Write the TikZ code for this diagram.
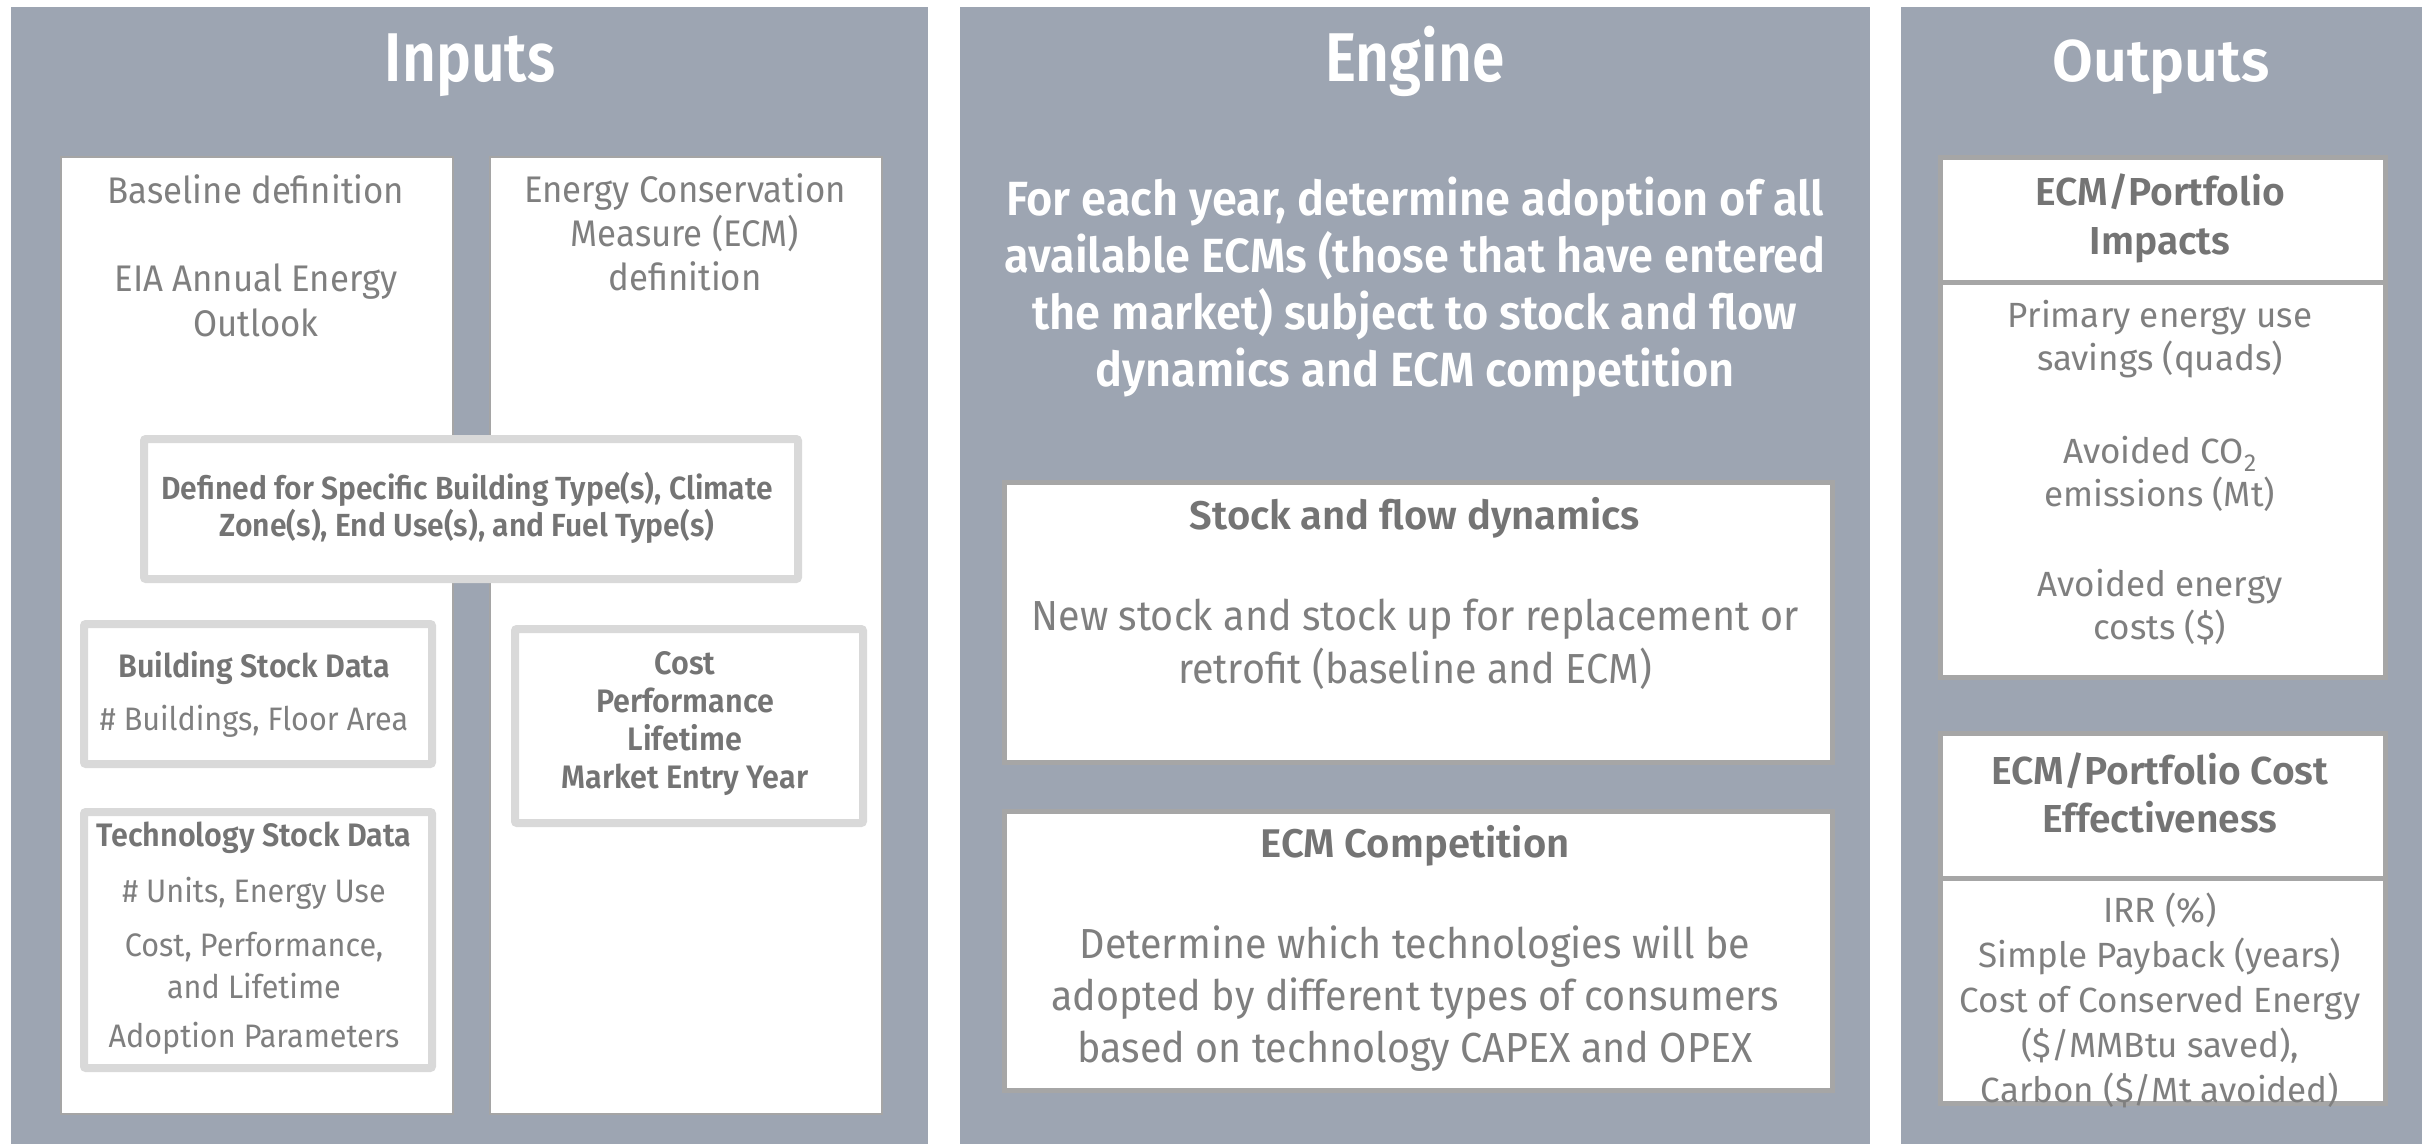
\documentclass[tikz,border=0pt]{standalone}
\usepackage{fontspec}
\setmainfont{Fira Sans}[BoldFont={Fira Sans SemiBold}]
\newfontfamily\condfont{Fira Sans}[FakeStretch=0.94,BoldFont={Fira Sans SemiBold}]
\newfontfamily\titlefont{Fira Sans}[FakeStretch=0.85,BoldFont={Fira Sans SemiBold}]
\newcommand\fsz[2]{\fontsize{#1}{#2}\selectfont}
\definecolor{panelc}{RGB}{157,165,178}
\definecolor{colb}{RGB}{165,165,165}
\definecolor{lightb}{RGB}{217,217,217}
\definecolor{darkb}{RGB}{166,166,166}
\definecolor{textc}{RGB}{127,127,127}
\definecolor{headc}{RGB}{116,116,116}
\tikzset{
  panel/.style={fill=panelc,draw=none,inner sep=0pt,anchor=north west},
  colbox/.style={fill=white,draw=colb,line width=2pt,inner sep=0pt,anchor=north west},
  ibox/.style={fill=white,draw=lightb,line width=8pt,rounded corners=2pt,inner sep=0pt,anchor=north west},
  obox/.style={fill=white,draw=darkb,line width=5pt,inner sep=0pt,anchor=north west},
  txt/.style={text=textc,align=center,inner sep=0pt},
  hd/.style={text=headc,align=center,inner sep=0pt},
  ttl/.style={text=white,align=center,inner sep=0pt,anchor=base},
  ctxt/.style={txt,font={\condfont\fsz{37}{45}}},
  csm/.style={txt,font={\condfont\fsz{32.5}{42}}},
  csmb/.style={hd,font={\condfont\bfseries\fsz{32.5}{38}}},
  etxt/.style={txt,font={\condfont\fsz{42}{53}}},
  ehd/.style={hd,font={\bfseries\fsz{40}{46}}},
  otxt/.style={txt,font={\fsz{35}{43}}},
  ohd/.style={hd,font={\bfseries\fsz{39}{49}}},
}
\begin{document}
\begin{tikzpicture}[x=1pt,y=-1pt]
\useasboundingbox (0,0) rectangle (2430,1144);
\fill[white] (0,0) rectangle (2430,1144);
% panels
\node[panel,minimum width=917pt,minimum height=1137pt] (pin) at (11,7) {};
\node[panel,minimum width=910pt,minimum height=1137pt] (pen) at (960,7) {};
\node[panel,minimum width=521pt,minimum height=1137pt] (pout) at (1901,7) {};
% titles
\node[ttl,font={\titlefont\bfseries\fsz{69}{70}}] (tin) at (470,81) {Inputs};
\node[ttl,font={\titlefont\bfseries\fsz{69}{70}}] (ten) at (1415,81) {Engine};
\node[ttl,font={\bfseries\fsz{59}{70}}] (tout) at (2161,81) {Outputs};
% inputs columns
\node[colbox,minimum width=392pt,minimum height=957pt] (lcol) at (60,156) {};
\node[colbox,minimum width=392pt,minimum height=957pt] (rcol) at (489,156) {};
\node[ctxt] (blA) at (256,189) {Baseline definition};
\node[ctxt] (blB) at (256,300) {EIA Annual Energy\\Outlook};
\node[ctxt,font={\condfont\fsz{37}{44}}] (ecA) at (685,232) {Energy Conservation\\Measure (ECM)\\definition};
% inputs inner boxes
\node[ibox,minimum width=654pt,minimum height=140pt] (dfbox) at (140,435) {};
\node[csmb,font={\condfont\bfseries\fsz{32}{37}}] (dfT) at (467,508) {Defined for Specific Building Type(s), Climate\\Zone(s), End Use(s), and Fuel Type(s)};
\node[ibox,minimum width=348pt,minimum height=140pt] (bsbox) at (80,620) {};
\node[csmb] (bsT) at (254,668) {Building Stock Data};
\node[csm] (bsB) at (254,721) {\# Buildings, Floor Area};
\node[ibox,minimum width=348pt,minimum height=256pt] (tsbox) at (80,808) {};
\node[csmb] (tsT) at (254,838) {Technology Stock Data};
\node[csm] (tsA) at (254,893) {\# Units, Energy Use};
\node[csm] (tsB) at (254,965) {Cost, Performance,\\and Lifetime};
\node[csm] (tsC) at (254,1038) {Adoption Parameters};
\node[ibox,minimum width=348pt,minimum height=194pt] (cpbox) at (511,625) {};
\node[csmb] (cpT) at (685,724) {Cost\\Performance\\Lifetime\\Market Entry Year};
% engine
\node[txt,text=white,font={\condfont\bfseries\fsz{48}{57}}] (epar) at (1415,287) {For each year, determine adoption of all\\available ECMs (those that have entered\\the market) subject to stock and flow\\dynamics and ECM competition};
\node[obox,minimum width=828pt,minimum height=280pt] (sfbox) at (1001.5,479.5) {};
\node[ehd] (sfT) at (1415,518) {Stock and flow dynamics};
\node[etxt] (sfB) at (1415,644) {New stock and stock up for replacement or\\retrofit (baseline and ECM)};
\node[obox,minimum width=828pt,minimum height=279pt] (ecbox) at (1001.5,808.5) {};
\node[ehd] (ecT) at (1415,846) {ECM Competition};
\node[etxt,font={\condfont\fsz{42}{52}}] (ecB) at (1415,999) {Determine which technologies will be\\adopted by different types of consumers\\based on technology CAPEX and OPEX};
% outputs
\node[obox,minimum width=445pt,minimum height=125.5pt] (o1hbox) at (1937.5,154.5) {};
\node[obox,minimum width=445pt,minimum height=394.5pt] (o1bbox) at (1937.5,280) {};
\node[ohd] (o1h) at (2160,218) {ECM/Portfolio\\Impacts};
\node[otxt] (o1a) at (2160,339) {Primary energy use\\savings (quads)};
\node[otxt] (o1b) at (2160,474) {Avoided CO\textsubscript{2}\\emissions (Mt)};
\node[otxt] (o1c) at (2160,607) {Avoided energy\\costs (\$)};
\node[obox,minimum width=445pt,minimum height=145pt] (o2hbox) at (1937.5,730.5) {};
\node[obox,minimum width=445pt,minimum height=225pt] (o2bbox) at (1937.5,875.5) {};
\node[ohd,font={\bfseries\fsz{39}{48}}] (o2h) at (2160,793) {ECM/Portfolio Cost\\Effectiveness};
\node[otxt,font={\fsz{35}{45}}] (o2b) at (2160,1000) {IRR (\%)\\Simple Payback (years)\\Cost of Conserved Energy\\(\$/MMBtu saved),\\Carbon (\$/Mt avoided)};
\end{tikzpicture}
\end{document}
